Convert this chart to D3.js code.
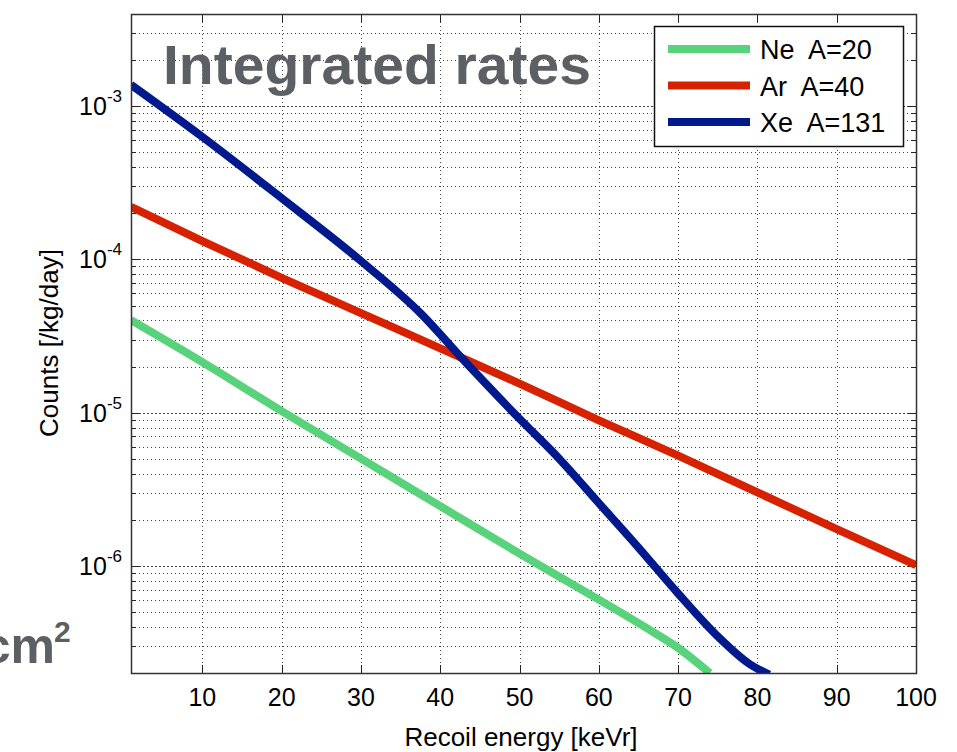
<!DOCTYPE html>
<html><head><meta charset="utf-8">
<script src="https://cdn.jsdelivr.net/npm/d3@7"></script>
<style>
body{margin:0;background:#fff;}
svg{display:block;font-family:"Liberation Sans",Arial,sans-serif;}
</style></head>
<body><svg id="c" width="957" height="752"></svg>
<script>
// Data (energy keVr, log10 counts /kg/day)
const neE = [1, 10, 20, 30, 40, 50, 60, 66, 70, 74];
const neLog = [-4.396, -4.67, -4.99, -5.30, -5.61, -5.92, -6.22, -6.405, -6.535, -6.70];
const arE = [1, 10, 20, 30, 40, 50, 60, 70, 80, 90, 100];
const arLog = [-3.656, -3.88, -4.12, -4.35, -4.58, -4.81, -5.05, -5.28, -5.52, -5.76, -5.995];
const xeE = [1, 10, 20, 30, 37.5, 43, 50, 55, 60, 65, 70, 75, 79, 81.5];
const xeLog = [-2.86, -3.20, -3.60, -4.01, -4.35, -4.66, -5.04, -5.30, -5.59, -5.88, -6.18, -6.46, -6.64, -6.71];
const seriesNames = ["Ne  A=20", "Ar  A=40", "Xe  A=131"];
const seriesColors = ["#58d37b", "#d62200", "#001a8e"];
const xTicks = [10, 20, 30, 40, 50, 60, 70, 80, 90, 100];
const yDecades = [-6, -5, -4, -3];

const svg = d3.select("#c");
const L = 131, R = 916, T = 14, B = 673;
const x = d3.scaleLinear().domain([1, 100]).range([L, R]);
const y = d3.scaleLog().domain([2e-7, 4e-3]).range([B, T]);
const sy = v => Math.round(y(v)) + 0.5;
const sx = v => Math.round(x(v)) + 0.5;

// cm2 text (cut by left edge)
svg.append("text").attr("x", 55).attr("y", 663).attr("text-anchor", "end")
  .attr("font-size", 50).attr("font-weight", "bold").attr("fill", "#5c5f64").text("cm");
svg.append("text").attr("x", 54).attr("y", 642).attr("font-size", 30).attr("font-weight", "bold")
  .attr("fill", "#5c5f64").text("2");

const g = svg.append("g");
g.append("rect").attr("x", L).attr("y", T).attr("width", R - L).attr("height", B - T).attr("fill", "#fff");

// grid
const minor = [], major = [];
for (let k = -7; k <= -3; k++) {
  for (let m = 1; m <= 9; m++) {
    const v = m * Math.pow(10, k);
    if (v > 2e-7 * 1.0001 && v < 4e-3 * 0.9999) (m === 1 ? major : minor).push(v);
  }
}
g.selectAll(".gm").data(minor).enter().append("line")
  .attr("x1", L).attr("x2", R).attr("y1", d => sy(d)).attr("y2", d => sy(d))
  .attr("stroke", "#444").attr("stroke-width", 1).attr("stroke-dasharray", "1,3");
g.selectAll(".gM").data(major).enter().append("line")
  .attr("x1", L).attr("x2", R).attr("y1", d => sy(d)).attr("y2", d => sy(d))
  .attr("stroke", "#444").attr("stroke-width", 1).attr("stroke-dasharray", "2,2");
g.selectAll(".gx").data(xTicks.filter(t => t < 100)).enter().append("line")
  .attr("x1", d => sx(d)).attr("x2", d => sx(d)).attr("y1", T).attr("y2", B)
  .attr("stroke", "#444").attr("stroke-width", 1).attr("stroke-dasharray", "1,3");

// ticks
const tk = g.append("g").attr("stroke", "#222").attr("stroke-width", 1);
xTicks.forEach(t => {
  tk.append("line").attr("x1", sx(t)).attr("x2", sx(t)).attr("y1", B).attr("y2", B - 8);
  tk.append("line").attr("x1", sx(t)).attr("x2", sx(t)).attr("y1", T).attr("y2", T + 8);
});
minor.concat(major).forEach(v => {
  const len = major.includes(v) ? 8 : 5;
  tk.append("line").attr("x1", L).attr("x2", L + len).attr("y1", sy(v)).attr("y2", sy(v));
  tk.append("line").attr("x1", R).attr("x2", R - len).attr("y1", sy(v)).attr("y2", sy(v));
});

// title
svg.append("text").attr("x", 163).attr("y", 84).attr("font-size", 56).attr("font-weight", "bold")
  .attr("fill", "#5c5f64").attr("textLength", 428).attr("lengthAdjust", "spacingAndGlyphs")
  .text("Integrated rates");

// lines
svg.append("clipPath").attr("id", "clip").append("rect")
  .attr("x", L).attr("y", T).attr("width", R - L).attr("height", B - T);
const line = d3.line().curve(d3.curveMonotoneX).x(d => x(d[0])).y(d => y(Math.pow(10, d[1])));
const series = [d3.zip(neE, neLog), d3.zip(arE, arLog), d3.zip(xeE, xeLog)];
series.forEach((s, i) => {
  svg.append("path").datum(s).attr("d", line).attr("fill", "none")
    .attr("stroke", seriesColors[i]).attr("stroke-width", 8).attr("stroke-linejoin", "round")
    .attr("clip-path", "url(#clip)");
});

// frame
svg.append("rect").attr("x", L + 0.5).attr("y", T + 0.5).attr("width", R - L).attr("height", B - T)
  .attr("fill", "none").attr("stroke", "#333").attr("stroke-width", 1.5);

// tick labels
const lab = svg.append("g").attr("font-size", 25).attr("fill", "#000");
xTicks.forEach(t => {
  lab.append("text").attr("x", x(t)).attr("y", 706).attr("text-anchor", "middle").text(t);
});
yDecades.forEach(k => {
  const tx = lab.append("text").attr("x", 122).attr("y", y(Math.pow(10, k)) + 9).attr("text-anchor", "end");
  tx.append("tspan").text("10");
  tx.append("tspan").attr("font-size", 17).attr("dy", -13).text(k);
});

// axis labels
svg.append("text").attr("x", 521).attr("y", 746).attr("text-anchor", "middle").attr("font-size", 26)
  .text("Recoil energy [keVr]");
svg.append("text").attr("transform", "translate(58,343) rotate(-90)").attr("text-anchor", "middle")
  .attr("font-size", 26).text("Counts [/kg/day]");

// legend
const lg = svg.append("g");
lg.append("rect").attr("x", 654.5).attr("y", 26.5).attr("width", 249).attr("height", 120)
  .attr("fill", "#fff").attr("stroke", "#111").attr("stroke-width", 1.5);
seriesNames.forEach((n, i) => {
  const yy = 49 + i * 36.5;
  lg.append("line").attr("x1", 668).attr("x2", 750).attr("y1", yy).attr("y2", yy)
    .attr("stroke", seriesColors[i]).attr("stroke-width", 8);
  lg.append("text").attr("x", 760).attr("y", yy + 10).attr("font-size", 27).attr("xml:space", "preserve")
    .style("white-space", "pre").text(n);
});
</script></body></html>
